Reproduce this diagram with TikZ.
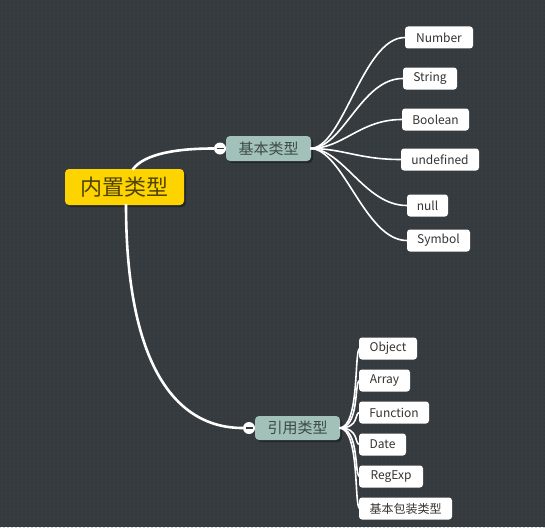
\documentclass[tikz,border=0pt]{standalone}
\usepackage{fontspec}
\setmainfont{Noto Sans CJK SC}
\usetikzlibrary{shadows,patterns,calc}
\definecolor{bgc}{HTML}{373C40}
\definecolor{dotc}{HTML}{2D3135}
\definecolor{rootc}{HTML}{FDD400}
\definecolor{roottext}{HTML}{4F4300}
\definecolor{lvl1}{HTML}{A2C1B9}
\definecolor{lvl1text}{HTML}{3E4A47}
\definecolor{leaftext}{HTML}{333333}
\pgfdeclarepatternformonly{bgdots}{\pgfqpoint{-1pt}{-1pt}}{\pgfqpoint{1pt}{1pt}}{\pgfqpoint{4pt}{4pt}}{\pgfpathcircle{\pgfqpoint{0pt}{0pt}}{0.7pt}\pgfusepath{fill}}
\tikzset{
  rootbox/.style={fill=rootc, rounded corners=4pt, inner sep=0pt, minimum height=36pt, text=roottext,
    font=\fontsize{22}{26}\selectfont, drop shadow={shadow xshift=2pt, shadow yshift=-2pt, fill=black, opacity=0.35}},
  midbox/.style={fill=lvl1, rounded corners=4pt, inner sep=0pt, minimum height=25pt, minimum width=85pt, text=lvl1text,
    font=\fontsize{15}{18}\selectfont, drop shadow={shadow xshift=2pt, shadow yshift=-2pt, fill=black, opacity=0.35}},
  leafbox/.style={fill=white, rounded corners=3pt, inner sep=0pt, minimum height=22pt, text=leaftext,
    font=\fontsize{12}{14}\selectfont},
  toggle/.style={circle, fill=white, inner sep=0pt, minimum size=12pt,
    path picture={\draw[line width=1.5pt, draw=bgc] ($(path picture bounding box.west)+(2.5pt,0)$) -- ($(path picture bounding box.east)+(-2.5pt,0)$);}},
  mainlink/.style={draw=white, line width=2.6pt},
  leaflink/.style={draw=white, line width=1.6pt},
}
\begin{document}
\begin{tikzpicture}[x=1pt,y=-1pt]
\fill[bgc] (0,0) rectangle (545,527);
\fill[pattern=bgdots, pattern color=dotc] (0,0) rectangle (545,527);
\useasboundingbox (0,0) rectangle (545,527);

% leaves of basic types
\node[leafbox, minimum width=68pt] (number) at (439,37.5) {Number};
\node[leafbox, minimum width=54pt] (string) at (430,78.5) {String};
\node[leafbox, minimum width=67pt] (boolean) at (435.5,119.5) {Boolean};
\node[leafbox, minimum width=78pt] (undef) at (440,159.5) {undefined};
\node[leafbox, minimum width=41pt] (null) at (427.5,205.5) {null};
\node[leafbox, minimum width=63pt] (symbol) at (438.5,240.5) {Symbol};

% leaves of reference types
\node[leafbox, minimum width=58pt] (object) at (388,348.5) {Object};
\node[leafbox, minimum width=51pt] (array) at (384.5,380.5) {Array};
\node[leafbox, minimum width=70pt] (function) at (394,412.5) {Function};
\node[leafbox, minimum width=47pt] (date) at (382.5,444.5) {Date};
\node[leafbox, minimum width=64pt] (regexp) at (391,476.5) {RegExp};
\node[leafbox, minimum width=93pt] (wrapper) at (405.5,508.5) {基本包装类型};

% main nodes
\node[rootbox, minimum width=119pt] (root) at (124.5,187) {内置类型};
\node[midbox] (basic) at (268.5,148.5) {基本类型};
\node[midbox, minimum height=24pt] (ref) at (297.5,428) {引用类型};
\node[toggle] (c1) at (220,148.5) {};
\node[toggle] (c2) at (249,428) {};

\path[mainlink] ($(root.north)+(8,1)$) .. controls ($(root.north)+(20,-16)$) and (180,148.5) .. (c1.west);
\path[mainlink] ($(root.south)+(1.5,-1)$) .. controls ($(root.south)+(1.5,150)$) and (170,428) .. (c2.west);

\foreach \n in {number,string,boolean,undef,null,symbol}{
  \path[leaflink] ($(basic.east)+(-1,0)$) .. controls ($(basic.east)+(32,0)$) and ($(\n.west)+(-42,0)$) .. (\n.west);
}
\foreach \n in {object,array,function,date,regexp,wrapper}{
  \path[leaflink] ($(ref.east)+(-1,0)$) .. controls ($(ref.east)+(20,0)$) and ($(\n.west)+(-5,0)$) .. ($(\n.west)+(1,0)$);
}
\end{tikzpicture}
\end{document}
